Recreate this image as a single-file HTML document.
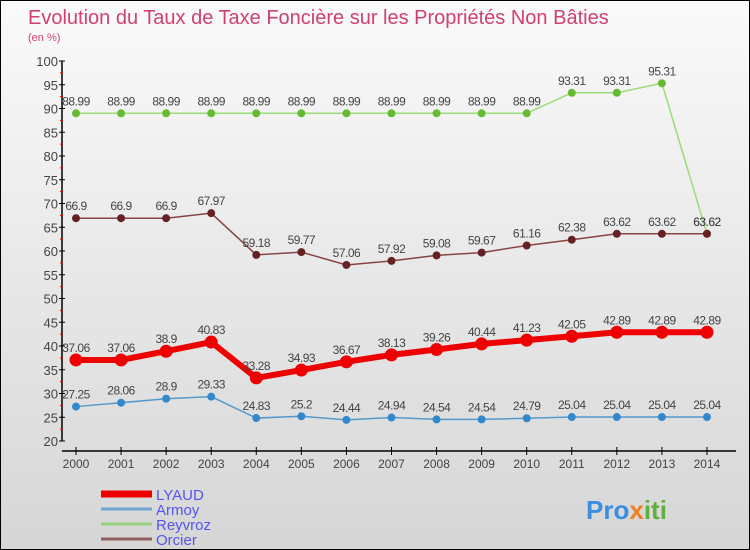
<!DOCTYPE html>
<html><head><meta charset="utf-8"><style>
body{margin:0}
#c{width:750px;height:550px;position:relative;box-sizing:border-box;border:1px solid #000;background:linear-gradient(#fafafa,#d6d6d6);font-family:"Liberation Sans",sans-serif;overflow:hidden}
</style></head><body>
<div id="c">
<svg id="s" width="750" height="550" style="position:absolute;left:0;top:0">
<text x="27" y="23" font-size="20" fill="#d04070">Evolution du Taux de Taxe Foncière sur les Propriétés Non Bâties</text>
<text x="27" y="40" font-size="11" fill="#d04070">(en %)</text>
<g id="g"></g>
<text x="585" y="518" font-size="26" font-weight="bold" fill="#3a8ee0">Pro<tspan fill="#f08020">x</tspan><tspan fill="#60b040">iti</tspan></text>
</svg>
</div>
<script>
const years=[2000,2001,2002,2003,2004,2005,2006,2007,2008,2009,2010,2011,2012,2013,2014];
const lyaud=[37.06,37.06,38.9,40.83,33.28,34.93,36.67,38.13,39.26,40.44,41.23,42.05,42.89,42.89,42.89];
const armoy=[27.25,28.06,28.9,29.33,24.83,25.2,24.44,24.94,24.54,24.54,24.79,25.04,25.04,25.04,25.04];
const reyvroz=[88.99,88.99,88.99,88.99,88.99,88.99,88.99,88.99,88.99,88.99,88.99,93.31,93.31,95.31,63.62];
const orcier=[66.9,66.9,66.9,67.97,59.18,59.77,57.06,57.92,59.08,59.67,61.16,62.38,63.62,63.62,63.62];
const yTicks=[20,25,30,35,40,45,50,55,60,65,70,75,80,85,90,95,100];
const seriesNames=["LYAUD","Armoy","Reyvroz","Orcier"];
const NS="http://www.w3.org/2000/svg";
const g=document.getElementById('g');
const X=i=>75+i*45.07;
const Y=v=>440-(v-20)*4.75;
function el(t,a,p){const e=document.createElementNS(NS,t);for(const k in a)e.setAttribute(k,a[k]);(p||g).appendChild(e);return e;}
let ax=el('line',{x1:61,y1:60,x2:61,y2:440,stroke:'#000','stroke-width':1.5});


let xa=el('line',{x1:61,y1:450,x2:735,y2:450,stroke:'#000','stroke-width':1.5});


yTicks.forEach(v=>{
  el('line',{x1:58,x2:64,y1:Y(v),y2:Y(v),stroke:'#000'});
  if(v<100)el('line',{x1:59,x2:62,y1:Y(v+2.5),y2:Y(v+2.5),stroke:'#e00'});
  const t=el('text',{x:57,y:Y(v)+5,'text-anchor':'end','font-size':13,fill:'#444'});
  
  
  t.textContent=v;
});
years.forEach((yr,i)=>{
  el('line',{x1:X(i),x2:X(i),y1:446,y2:454,stroke:'#000'});
  const t=el('text',{x:X(i),y:467,'text-anchor':'middle','font-size':12,fill:'#444'});
  
  
  t.textContent=yr;
});
function series(data,color,dot,w,r,name){
  const p=el('polyline',{points:data.map((v,i)=>X(i)+','+Y(v)).join(' '),fill:'none',stroke:color,'stroke-width':w});
  
  
  data.forEach((v,i)=>{
    const c=el('circle',{cx:X(i),cy:Y(v),r:r,fill:dot});
    
    
    const t=el('text',{x:X(i),y:Y(v)-8,'text-anchor':'middle','font-size':12,fill:'#444','letter-spacing':'-0.5'});
    
    
    t.textContent=String(v);
  });
}
series(reyvroz,'#99dd77','#66bb33',1.5,4,'reyvroz');
series(orcier,'#884444','#662222',1.5,4,'orcier');
series(armoy,'#5599cc','#3388cc',1.5,4,'armoy');
series(lyaud,'#ee0000','#ee0000',6,6.5,'lyaud');
const lc=['#ee0000','#6ea6d0','#99d080','#906060'],lw=[7,3,3,3];
seriesNames.forEach((n,i)=>{
  const y=493+i*15;
  const l=el('line',{x1:100,x2:151,y1:y,y2:y,stroke:lc[i],'stroke-width':lw[i]});
  
  
  const t=el('text',{x:155,y:y+6,'font-size':15,fill:'#5555ee'});
  
  
  t.textContent=n;
});
</script>
</body></html>
